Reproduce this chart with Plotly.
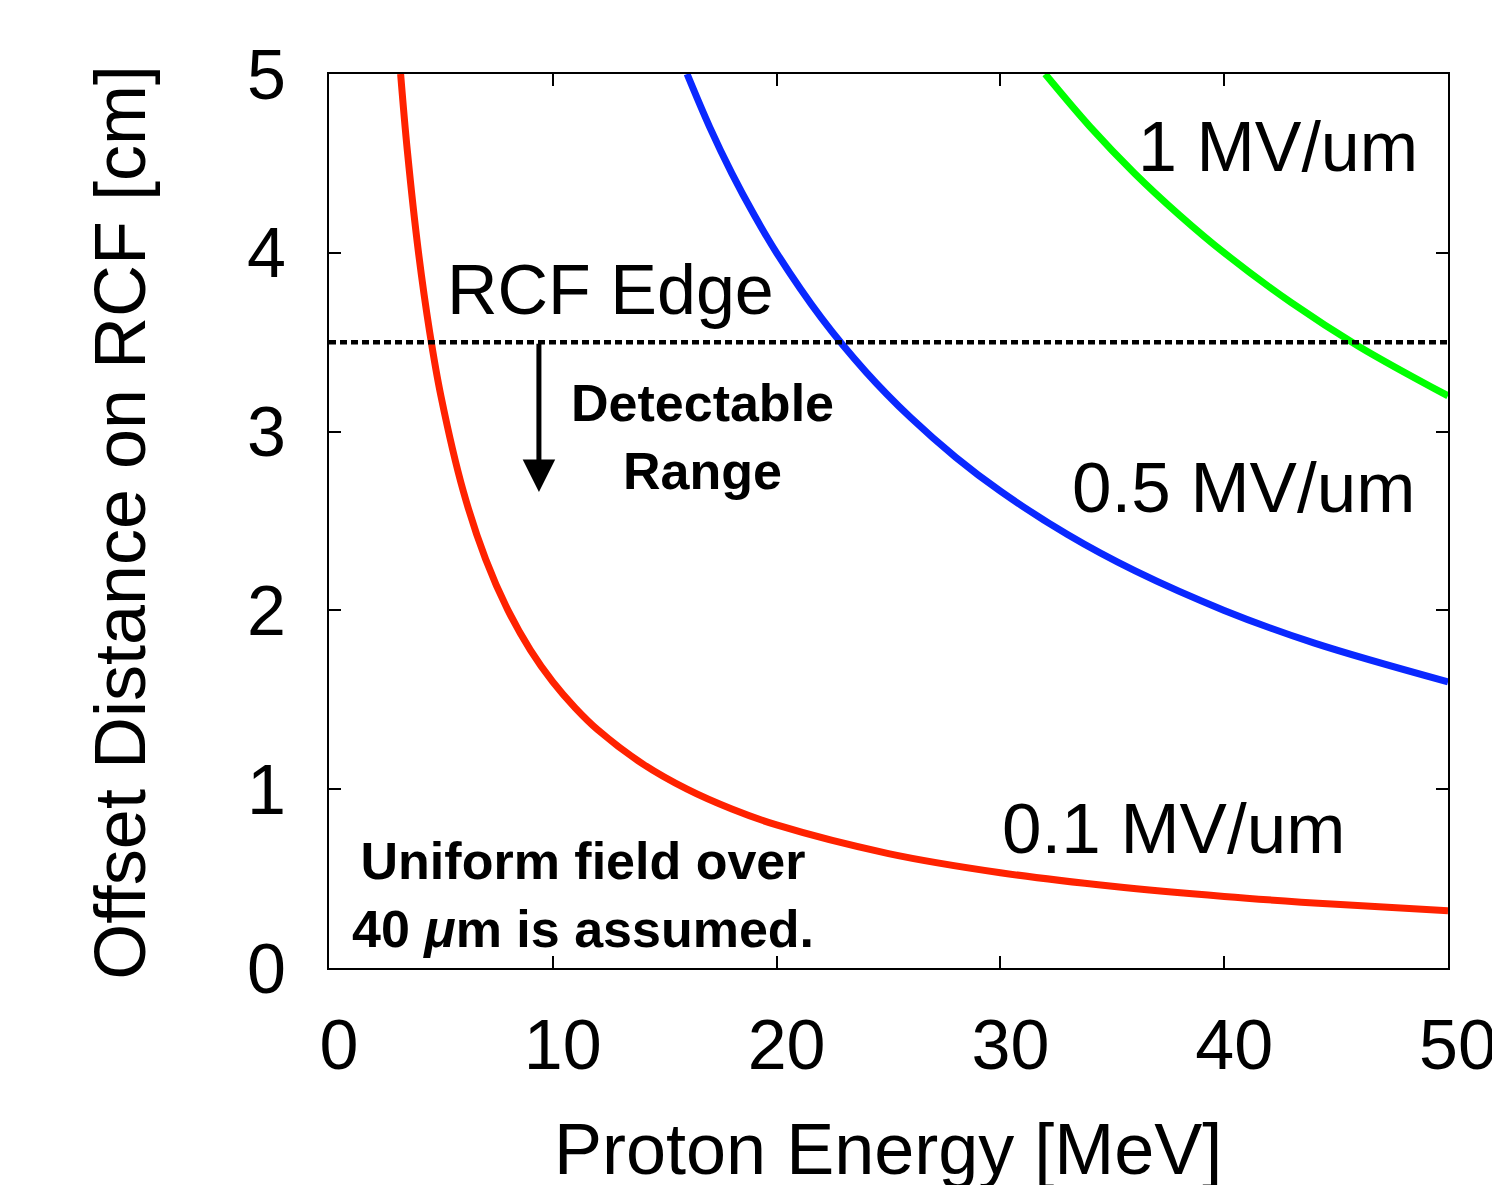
import plotly.graph_objects as go

# Readings from the picture: proton energy [MeV] vs offset distance [cm]
e_01 = [3.2, 3.5, 4, 4.5, 5, 6, 7, 8, 9, 10, 11, 12, 14, 16, 18, 20, 25, 30, 35, 40, 45, 50]
d_01 = [5.0, 4.571, 4.0, 3.556, 3.2, 2.667, 2.286, 2.0, 1.778, 1.6, 1.455, 1.333, 1.143, 1.0,
        0.889, 0.8, 0.64, 0.533, 0.457, 0.4, 0.356, 0.32]

e_05 = [16, 17, 18, 19, 20, 22, 24, 26, 28, 30, 33, 36, 40, 44, 50]
d_05 = [5.0, 4.706, 4.444, 4.211, 4.0, 3.636, 3.333, 3.077, 2.857, 2.667, 2.424, 2.222, 2.0,
        1.818, 1.6]

e_1 = [32, 34, 36, 38, 40, 43, 46, 50]
d_1 = [5.0, 4.706, 4.444, 4.211, 4.0, 3.721, 3.478, 3.2]

edge_x = [0, 50]
edge_y = [3.5, 3.5]

x_ticks = [0, 10, 20, 30, 40, 50]
y_ticks = [0, 1, 2, 3, 4, 5]

FONT = "Liberation Sans, Arial, Helvetica, sans-serif"

fig = go.Figure()
fig.add_trace(go.Scatter(x=e_01, y=d_01, mode="lines", line=dict(color="#ff2200", width=7, shape="spline"),
                         showlegend=False, hoverinfo="skip"))
fig.add_trace(go.Scatter(x=e_05, y=d_05, mode="lines", line=dict(color="#0a28ff", width=7, shape="spline"),
                         showlegend=False, hoverinfo="skip"))
fig.add_trace(go.Scatter(x=e_1, y=d_1, mode="lines", line=dict(color="#00ff00", width=7, shape="spline"),
                         showlegend=False, hoverinfo="skip"))
fig.add_trace(go.Scatter(x=edge_x, y=edge_y, mode="lines", line=dict(color="black", width=4.5, dash="7px,4px"),
                         showlegend=False, hoverinfo="skip"))

axis_common = dict(
    showline=True, linecolor="black", linewidth=2, mirror="ticks",
    ticks="inside", ticklen=12, tickwidth=2, tickcolor="black",
    showgrid=False, zeroline=False,
    tickfont=dict(family=FONT, size=70, color="black"),
    ticklabeloverflow="allow",
    automargin=False,
)

fig.update_xaxes(range=[0, 50], tickvals=x_ticks, ticktext=[str(v) for v in x_ticks],
                 ticklabelstandoff=15, ticklabelshift=10, **axis_common)
fig.update_yaxes(range=[0, 5], tickvals=y_ticks, ticktext=[str(v) for v in y_ticks],
                 ticklabelstandoff=27, **axis_common)

ann = []
ann.append(dict(text="Proton Energy [MeV]", xref="paper", yref="paper", x=0.4996, y=-0.2025,
                xanchor="center", yanchor="middle", showarrow=False,
                font=dict(family=FONT, size=72, color="black")))
ann.append(dict(text="Offset Distance on RCF [cm]", xref="paper", yref="paper", x=-0.1868, y=0.499,
                xanchor="center", yanchor="middle", textangle=-90, showarrow=False,
                font=dict(family=FONT, size=72, color="black")))
ann.append(dict(text="RCF Edge", x=12.56, y=3.79, xanchor="center", yanchor="middle", showarrow=False,
                font=dict(family=FONT, size=70, color="black")))
ann.append(dict(text="1 MV/um", x=48.75, y=4.59, xanchor="right", yanchor="middle", showarrow=False,
                font=dict(family=FONT, size=70, color="black")))
ann.append(dict(text="0.5 MV/um", x=48.6, y=2.685, xanchor="right", yanchor="middle", showarrow=False,
                font=dict(family=FONT, size=71, color="black")))
ann.append(dict(text="0.1 MV/um", x=45.49, y=0.783, xanchor="right", yanchor="middle", showarrow=False,
                font=dict(family=FONT, size=71, color="black")))
ann.append(dict(text="<b>Detectable<br>Range</b>", x=16.71, y=2.97, xanchor="center", yanchor="middle",
                showarrow=False, font=dict(family=FONT, size=52, color="black")))
ann.append(dict(text="<b>Uniform field over<br>40 <i>μ</i>m is assumed.</b>", x=11.35, y=0.41,
                xanchor="center", yanchor="middle", showarrow=False,
                font=dict(family=FONT, size=52, color="black")))
ann.append(dict(text="", x=9.38, y=2.662, ax=9.38, ay=3.5, axref="x", ayref="y",
                showarrow=True, arrowhead=2, arrowwidth=5, arrowsize=1.3, arrowcolor="black",
                standoff=0, startstandoff=0))

fig.update_layout(
    width=1492, height=1185,
    margin=dict(l=329, r=44, t=74, b=217, autoexpand=False),
    paper_bgcolor="white", plot_bgcolor="white",
    annotations=ann,
    font=dict(family=FONT, color="black"),
)

fig.write_html("out.html")
